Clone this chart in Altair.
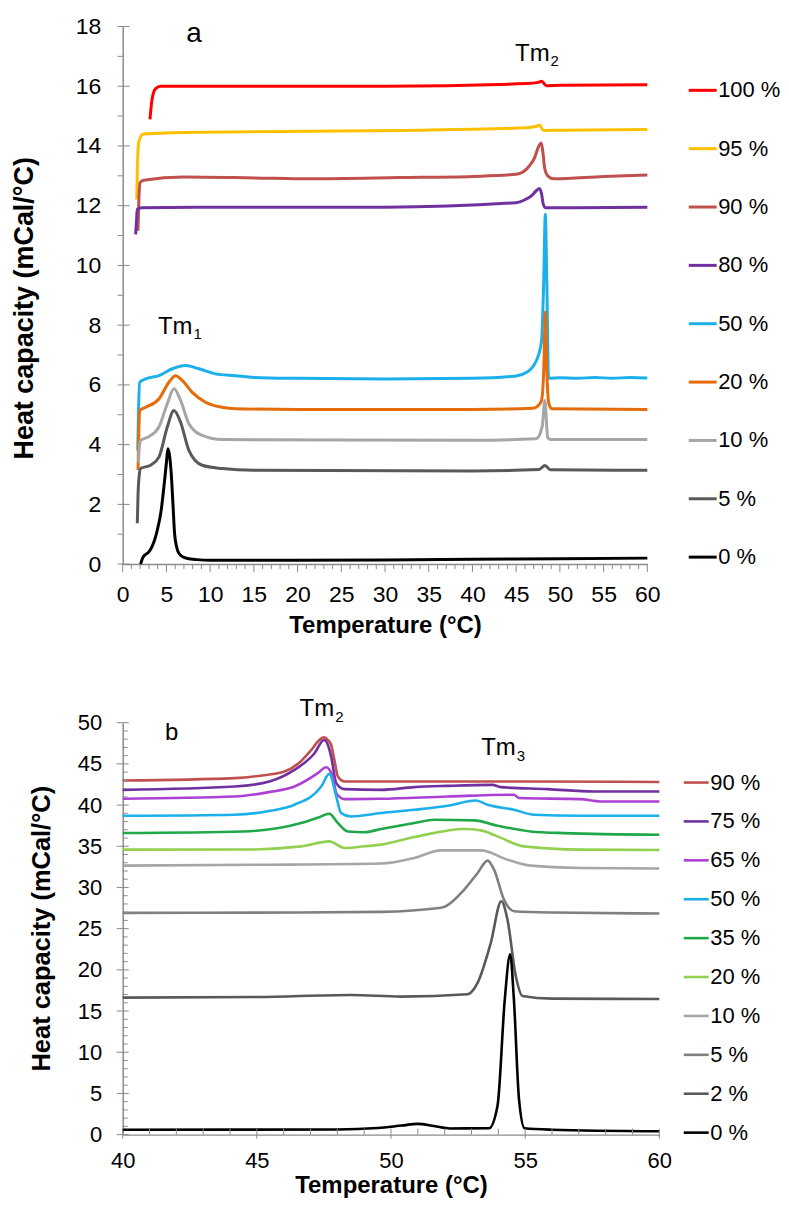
import altair as alt
import pandas as pd

FONT = "Liberation Sans"

# ---------------- Panel a (0-60 °C) ----------------
a_series = ["100 %", "95 %", "90 %", "80 %", "50 %", "20 %", "10 %", "5 %", "0 %"]
a_colors = ["#ff0000", "#ffc000", "#c0504d", "#7030a0", "#1cb0ea", "#e46c0a", "#a6a6a6", "#595959", "#000000"]
a_widths = [3, 3, 3, 3, 3, 3, 3, 3, 2.2]

a100_T = [3.12, 3.25, 3.38, 3.76, 4.33, 30, 46.2, 47.5, 47.9, 48.45, 50, 60]
a100_C = [14.89, 15.3, 15.6, 15.92, 16.0, 16.0, 16.09, 16.13, 16.17, 16.02, 16.03, 16.05]

a95_T = [1.6, 1.7, 1.86, 2.36, 8.9, 31.7, 46.2, 47.2, 47.7, 48.1, 50, 60]
a95_C = [12.21, 13.5, 14.16, 14.4, 14.46, 14.52, 14.61, 14.65, 14.69, 14.52, 14.53, 14.55]

a90_T = [1.75, 1.85, 1.98, 2.4, 7, 15, 21.5, 31.7, 40, 45, 46.5, 47.1, 47.5, 47.87, 48.05, 48.25, 48.63, 49.3, 55, 60]
a90_C = [11.16, 12.2, 12.77, 12.85, 12.96, 12.93, 12.9, 12.94, 12.98, 13.05, 13.33, 13.6, 13.94, 14.1, 13.8, 13.27, 12.99, 12.9, 12.98, 13.03]

a80_T = [1.48, 1.6, 1.67, 2.2, 10, 30, 45, 46.0, 46.7, 47.3, 47.68, 47.9, 48.1, 48.4, 50, 60]
a80_C = [11.04, 11.6, 11.88, 11.93, 11.95, 11.95, 12.1, 12.2, 12.32, 12.5, 12.58, 12.4, 12.05, 11.93, 11.93, 11.95]

a50_T = [1.72, 1.8, 1.94, 2.62, 4.14, 5.67, 7.19, 8.71, 10.6, 12.9, 15, 20, 30, 40, 45, 46.2, 47.3, 47.9,
         48.15, 48.33, 48.5, 48.7, 50, 52, 54, 56, 58, 60]
a50_C = [3.8, 5.0, 6.09, 6.2, 6.31, 6.54, 6.65, 6.54, 6.37, 6.31, 6.25, 6.22, 6.2, 6.22, 6.3, 6.42, 6.81, 7.48,
         9.5, 11.71, 9.5, 6.22, 6.24, 6.22, 6.25, 6.22, 6.25, 6.23]

a20_T = [1.75, 1.85, 1.94, 2.62, 4.14, 5.29, 6.05, 6.81, 7.95, 9.47, 11.37, 12.9, 20, 40, 46.9, 47.5, 47.9,
         48.15, 48.33, 48.5, 48.74, 49.1, 60]
a20_C = [3.15, 4.5, 5.14, 5.25, 5.53, 6.09, 6.31, 6.15, 5.75, 5.42, 5.25, 5.2, 5.18, 5.18, 5.22, 5.3, 5.48,
         6.5, 8.43, 6.5, 5.37, 5.2, 5.18]

a10_T = [1.8, 1.9, 2.05, 3.0, 4.14, 5.1, 5.86, 6.62, 7.57, 9.09, 11.37, 40, 47.3, 47.97, 48.28, 48.6, 48.9, 60]
a10_C = [3.4, 3.9, 4.14, 4.27, 4.59, 5.37, 5.87, 5.48, 4.7, 4.31, 4.17, 4.15, 4.2, 4.6, 5.48, 4.25, 4.17, 4.17]

a5_T = [1.67, 1.75, 1.9, 2.05, 3.19, 4.14, 5.1, 5.86, 6.62, 7.57, 9.09, 11.37, 15, 40, 47.6, 48.3, 48.9, 60]
a5_C = [1.37, 2.3, 3.0, 3.2, 3.31, 3.58, 4.59, 5.14, 4.75, 3.81, 3.31, 3.2, 3.14, 3.12, 3.17, 3.3, 3.16, 3.14]

a0_T = [2.05, 2.3, 2.6, 2.9, 3.3, 3.95, 4.4, 4.71, 5.0, 5.17, 5.35, 5.55, 5.75, 5.93, 6.15, 6.42, 6.9, 7.4,
        8.5, 10, 20, 30, 40, 50, 60]
a0_C = [0.0, 0.22, 0.32, 0.38, 0.55, 1.13, 1.8, 2.58, 3.4, 3.86, 3.65, 3.03, 2.0, 1.03, 0.6, 0.36, 0.24, 0.19,
        0.15, 0.13, 0.13, 0.14, 0.16, 0.18, 0.2]

a_T_lists = [a100_T, a95_T, a90_T, a80_T, a50_T, a20_T, a10_T, a5_T, a0_T]
a_C_lists = [a100_C, a95_C, a90_C, a80_C, a50_C, a20_C, a10_C, a5_C, a0_C]

a_x_major = [0, 5, 10, 15, 20, 25, 30, 35, 40, 45, 50, 55, 60]
a_x_minor = [v for v in range(0, 61) if v % 5 != 0]
a_y_major = [0, 2, 4, 6, 8, 10, 12, 14, 16, 18]
a_y_minor = [1, 3, 5, 7, 9, 11, 13, 15, 17]

a_note_text = ["a"]
a_note_T = [8.16]
a_note_C = [17.48]
a_tm_text = ["Tm", "Tm"]
a_tm_T = [48.82, 7.98]
a_tm_C = [16.83, 7.72]
a_sub_text = ["2", "1"]

# ---------------- Panel b (40-60 °C) ----------------
b_series = ["90 %", "75 %", "65 %", "50 %", "35 %", "20 %", "10 %", "5 %", "2 %", "0 %"]
b_colors = ["#c0504d", "#7030a0", "#ad40d4", "#1cb0ea", "#1ea84a", "#92d050", "#a6a6a6", "#808080", "#595959", "#000000"]
b_widths = [2.6, 2.6, 2.6, 2.6, 2.6, 2.6, 2.6, 2.6, 2.6, 1.6]

b90_T = [40, 44.17, 45.2, 46.03, 46.6, 47.03, 47.3, 47.5, 47.65, 47.77, 47.9, 48.02, 48.27, 50, 55, 60]
b90_C = [42.98, 43.27, 43.6, 44.07, 45.2, 46.7, 47.8, 48.23, 47.9, 47.3, 45.3, 43.46, 42.86, 42.86, 42.86, 42.8]

b75_T = [40, 44.17, 45.5, 46.4, 47.15, 47.5, 47.65, 47.77, 47.96, 48.27, 49.63, 50.87, 52.11, 53.78, 54.09,
         55.83, 57.56, 60]
b75_C = [41.85, 42.25, 42.9, 44.27, 46.29, 47.9, 47.3, 45.88, 42.66, 41.94, 41.85, 42.18, 42.33, 42.45, 42.18,
         41.94, 41.65, 41.65]

b65_T = [40, 44.17, 45.5, 46.4, 47.27, 47.58, 47.83, 47.96, 48.27, 49.63, 52.11, 54.58, 54.77, 57.06, 57.8, 60]
b65_C = [40.76, 41.04, 41.6, 42.25, 43.87, 44.6, 43.46, 41.45, 40.72, 40.76, 41.04, 41.25, 40.85, 40.72, 40.44, 40.44]

b50_T = [40, 44.17, 45.5, 46.4, 47.4, 47.7, 47.96, 48.14, 48.51, 49.63, 50.87, 52.11, 53.16, 53.6, 54.58,
         55.33, 57.06, 60]
b50_C = [38.7, 38.83, 39.3, 40.04, 42.25, 43.79, 41.04, 39.03, 38.62, 39.03, 39.43, 39.92, 40.56, 40.04, 39.43,
         38.83, 38.7, 38.7]

b35_T = [40, 44.5, 46.65, 47.3, 47.7, 48.02, 48.39, 49.0, 49.63, 50.87, 51.61, 53.1, 53.97, 55.2, 56.44, 60]
b35_C = [36.61, 36.8, 37.82, 38.5, 38.95, 37.82, 36.8, 36.7, 37.09, 37.82, 38.22, 38.14, 37.5, 36.8, 36.6, 36.4]

b20_T = [40, 44.5, 46.65, 47.7, 48.27, 49.0, 49.63, 50.87, 52.73, 53.35, 53.97, 54.95, 57.06, 60]
b20_C = [34.59, 34.6, 34.99, 35.6, 34.79, 35.0, 35.2, 36.12, 37.1, 36.93, 36.2, 34.99, 34.59, 34.55]

b10_T = [40, 45, 49.63, 50.87, 51.86, 53.35, 54.34, 55.2, 57.06, 60]
b10_C = [32.65, 32.75, 32.9, 33.58, 34.5, 34.5, 33.38, 32.65, 32.37, 32.3]

b5_T = [40, 45, 49.63, 51.86, 52.04, 52.73, 53.23, 53.6, 53.84, 54.21, 54.58, 56, 60]
b5_C = [26.92, 26.95, 27.04, 27.53, 27.72, 29.74, 31.76, 33.26, 32.17, 28.53, 27.12, 26.96, 26.84]

b2_T = [40, 45, 48.51, 50.37, 52.85, 53.23, 53.72, 54.11, 54.34, 54.65, 54.9, 56, 60]
b2_C = [16.63, 16.7, 16.95, 16.75, 17.03, 18.45, 23.29, 28.33, 26.11, 19.25, 16.83, 16.51, 16.47]

b0_T = [40, 48, 49.5, 50.4, 51.0, 51.6, 52.2, 53.65, 53.97, 54.24, 54.44, 54.58, 54.77, 54.98, 56, 60]
b0_C = [0.6, 0.62, 0.8, 1.1, 1.3, 1.05, 0.75, 0.77, 3.51, 16.4, 21.88, 16.4, 4.32, 0.77, 0.6, 0.41]

b_T_lists = [b90_T, b75_T, b65_T, b50_T, b35_T, b20_T, b10_T, b5_T, b2_T, b0_T]
b_C_lists = [b90_C, b75_C, b65_C, b50_C, b35_C, b20_C, b10_C, b5_C, b2_C, b0_C]

b_x_major = [40, 45, 50, 55, 60]
b_x_minor = [v for v in range(40, 61) if v % 5 != 0]
b_y_major = [0, 5, 10, 15, 20, 25, 30, 35, 40, 45, 50]
b_y_minor = [v for v in range(0, 51) if v % 5 != 0]

b_note_text = ["b"]
b_note_T = [41.82]
b_note_C = [47.9]
b_tm_text = ["Tm", "Tm"]
b_tm_T = [47.88, 54.65]
b_tm_C = [50.8, 46.09]
b_sub_text = ["2", "3"]


def series_frame(names, Ts, Cs):
    rows = []
    for n, T, C in zip(names, Ts, Cs):
        for k, (t, c) in enumerate(zip(T, C)):
            rows.append({"series": n, "T": t, "Cp": c, "k": k})
    return pd.DataFrame(rows)


TICK_COLOR = "#8a8a8a"


def panel(names, colors, widths, Ts, Cs, xdom, ydom, W, H,
          x_major, x_minor, y_major, y_minor,
          note_text, note_T, note_C, tm_text, tm_T, tm_C, sub_text,
          tick_fs, xlab_pad, xtitle_pad, ylab_pad, ytitle_pad, ytitle_fs, ytitle_y,
          leg_x, leg_y, leg_row, leg_sym, sub_dy, note_fs,
          y_major_in, y_major_out, y_minor_in, y_minor_out,
          x_major_in, x_major_out, x_minor_in, x_minor_out):
    df = series_frame(names, Ts, Cs)
    xs = alt.Scale(domain=xdom, nice=False, zero=False)
    ys = alt.Scale(domain=ydom, nice=False, zero=False)

    lines = alt.Chart(df).mark_line(interpolate="monotone").encode(
        x=alt.X("T:Q", scale=xs, axis=alt.Axis(
            values=x_major, ticks=False, tickSize=0, labelPadding=xlab_pad,
            labelFontSize=tick_fs, title="Temperature (°C)", titleFontSize=24,
            titleFontWeight="bold", titlePadding=xtitle_pad, labelFlush=False)),
        y=alt.Y("Cp:Q", scale=ys, axis=alt.Axis(
            values=y_major, ticks=False, tickSize=0, labelPadding=ylab_pad,
            labelFontSize=tick_fs, title="Heat capacity (mCal/°C)", titleFontSize=ytitle_fs,
            titleFontWeight="bold", titlePadding=ytitle_pad, titleY=ytitle_y, labelFlush=False)),
        color=alt.Color("series:N", scale=alt.Scale(domain=names, range=colors),
                        legend=alt.Legend(orient="none", legendX=leg_x, legendY=leg_y, title=None,
                                          symbolType="stroke", symbolSize=leg_sym * leg_sym,
                                          symbolStrokeWidth=3, labelFontSize=22, labelFont=FONT,
                                          labelColor="black", rowPadding=leg_row, labelOffset=0,
                                          columnPadding=0, padding=0, labelLimit=0)),
        strokeWidth=alt.StrokeWidth("series:N", scale=alt.Scale(domain=names, range=widths), legend=None),
        order="k:Q",
        detail="series:N",
    )

    def yticks(vals, a, b):
        return alt.Chart(pd.DataFrame({"v": vals})).mark_rule(color=TICK_COLOR, strokeWidth=1).encode(
            y=alt.Y("v:Q", scale=ys), x=alt.value(-a), x2=alt.value(b))

    def xticks(vals, a, b):
        return alt.Chart(pd.DataFrame({"v": vals})).mark_rule(color=TICK_COLOR, strokeWidth=1).encode(
            x=alt.X("v:Q", scale=xs), y=alt.value(H - a), y2=alt.value(H + b))

    notes = alt.Chart(pd.DataFrame({"t": note_text, "T": note_T, "Cp": note_C})).mark_text(
        fontSize=note_fs, font=FONT, align="center", baseline="alphabetic", color="black").encode(
        x=alt.X("T:Q", scale=xs), y=alt.Y("Cp:Q", scale=ys), text="t:N")

    tms = alt.Chart(pd.DataFrame({"t": tm_text, "T": tm_T, "Cp": tm_C})).mark_text(
        fontSize=24, font=FONT, align="right", baseline="alphabetic", color="black").encode(
        x=alt.X("T:Q", scale=xs), y=alt.Y("Cp:Q", scale=ys), text="t:N")

    subs = alt.Chart(pd.DataFrame({"t": sub_text, "T": tm_T, "Cp": tm_C})).mark_text(
        fontSize=15, font=FONT, align="left", baseline="alphabetic", color="black", dx=1, dy=sub_dy).encode(
        x=alt.X("T:Q", scale=xs), y=alt.Y("Cp:Q", scale=ys), text="t:N")

    return alt.layer(
        lines,
        yticks(y_major, y_major_out, y_major_in),
        yticks(y_minor, y_minor_out, y_minor_in),
        xticks(x_major, x_major_in, x_major_out),
        xticks(x_minor, x_minor_in, x_minor_out),
        notes, tms, subs,
    ).properties(width=W, height=H)


top = panel(a_series, a_colors, a_widths, a_T_lists, a_C_lists, [0, 60], [0, 18], 526, 539,
            a_x_major, a_x_minor, a_y_major, a_y_minor,
            a_note_text, a_note_T, a_note_C, a_tm_text, a_tm_T, a_tm_C, a_sub_text,
            tick_fs=23, xlab_pad=19, xtitle_pad=8, ylab_pad=22, ytitle_pad=37, ytitle_fs=27, ytitle_y=282,
            leg_x=566, leg_y=48.5, leg_row=31.5, leg_sym=28, sub_dy=5, note_fs=28,
            y_major_in=7, y_major_out=5, y_minor_in=0, y_minor_out=5,
            x_major_in=0, x_major_out=8, x_minor_in=0, x_minor_out=5)

bottom = panel(b_series, b_colors, b_widths, b_T_lists, b_C_lists, [40, 60], [0, 50], 538, 413,
               b_x_major, b_x_minor, b_y_major, b_y_minor,
               b_note_text, b_note_T, b_note_C, b_tm_text, b_tm_T, b_tm_C, b_sub_text,
               tick_fs=22, xlab_pad=16, xtitle_pad=2, ylab_pad=21, ytitle_pad=23, ytitle_fs=25.5, ytitle_y=206,
               leg_x=561, leg_y=46, leg_row=14.0, leg_sym=25, sub_dy=6, note_fs=24,
               y_major_in=6, y_major_out=6, y_minor_in=5, y_minor_out=0,
               x_major_in=6, x_major_out=4, x_minor_in=6, x_minor_out=0)

chart = alt.vconcat(top, bottom, spacing=159, bounds="flush").resolve_scale(
    color="independent", strokeWidth="independent"
).resolve_legend(color="independent").properties(
    padding={"left": 2, "top": 6, "right": 0, "bottom": 0}
).configure_view(stroke=None).configure_axis(
    grid=False, domainColor="#8c8c8c", domainWidth=1.5, labelColor="black", titleColor="black",
    labelFont=FONT, titleFont=FONT
).configure_text(font=FONT)

chart.save("out.html", embed_options={"renderer": "svg", "actions": False})
